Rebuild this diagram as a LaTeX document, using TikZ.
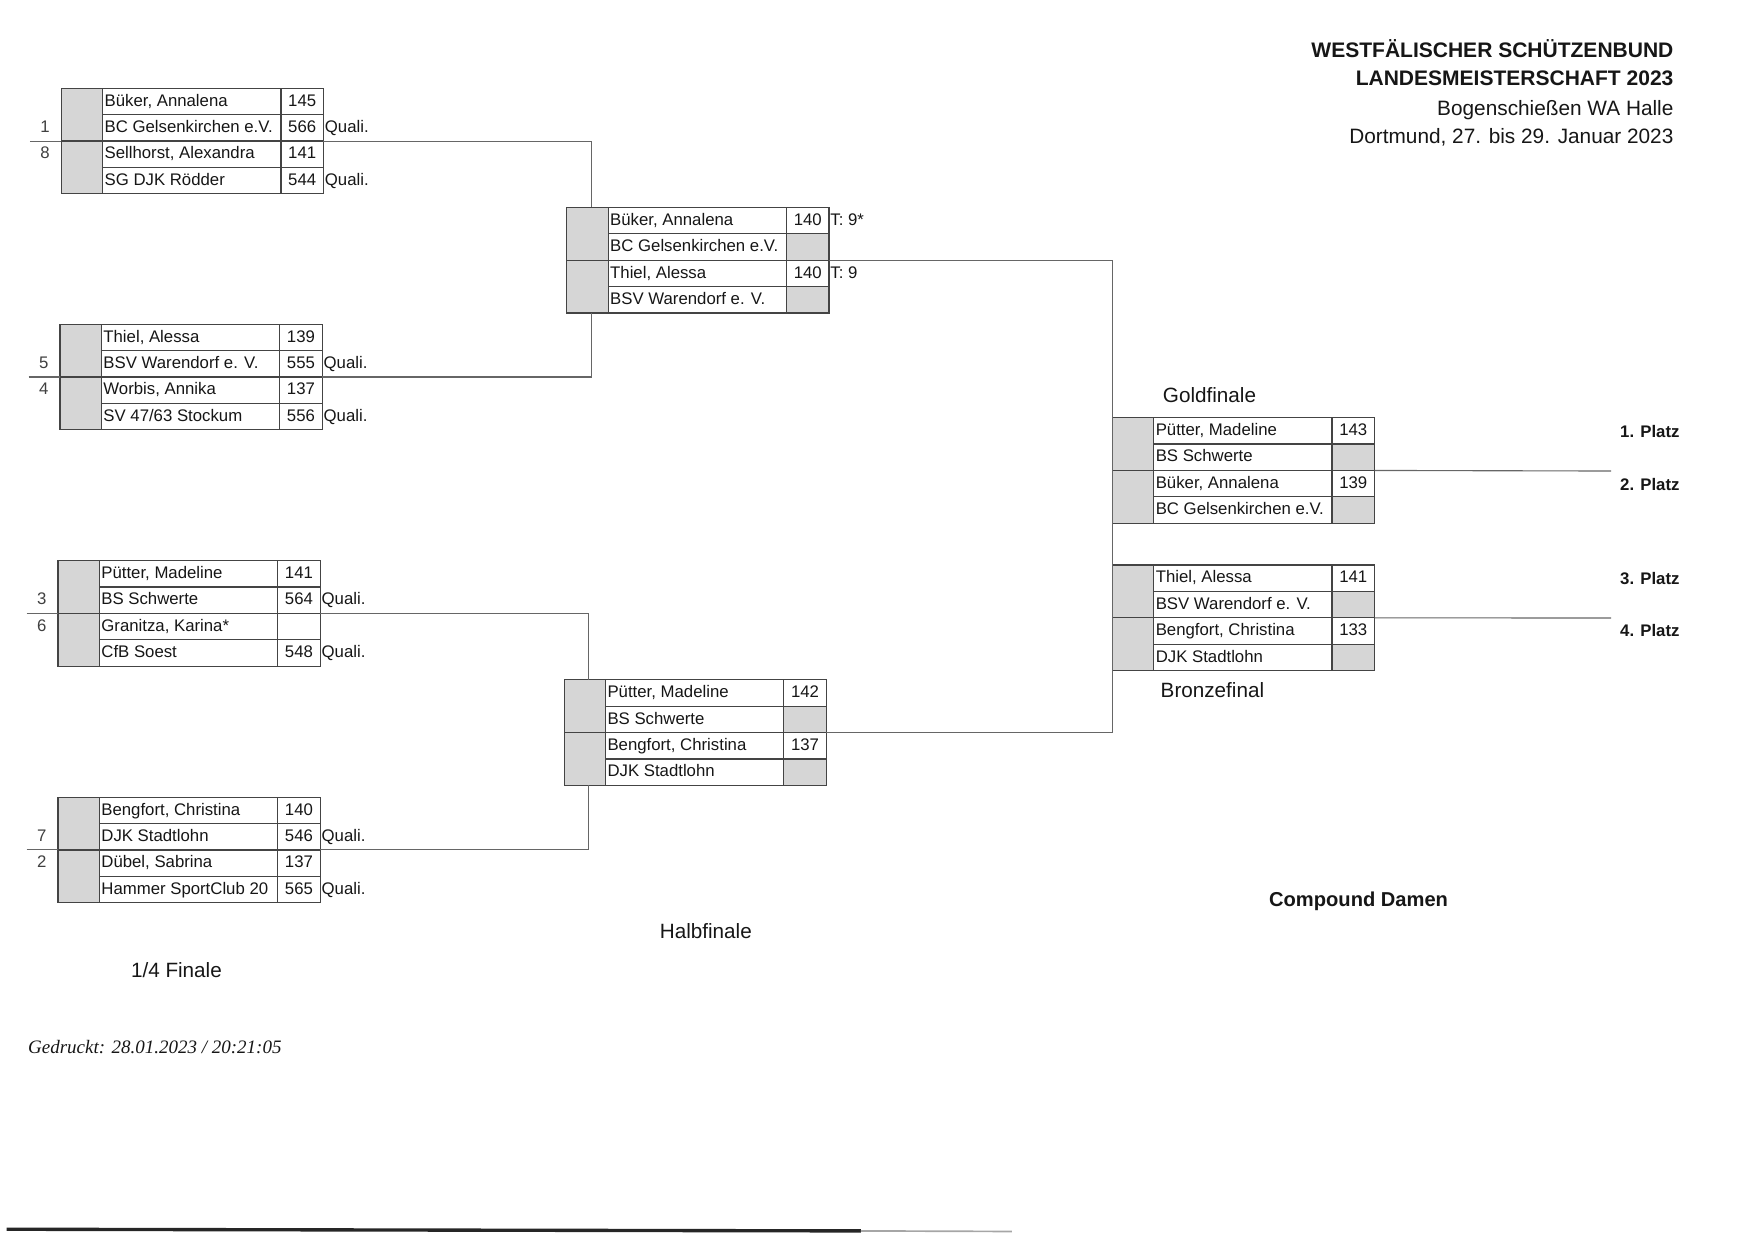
\documentclass[tikz,border=0pt]{standalone}
\usepackage{fontspec}
\setmainfont{Liberation Sans}
\newfontfamily\timesit{Liberation Serif}
\definecolor{shd}{HTML}{D6D6D6}
\definecolor{ink}{HTML}{161616}
\definecolor{lnc}{HTML}{444444}
\definecolor{cnc}{HTML}{666666}
\definecolor{seedc}{HTML}{404040}

% frame of one result box: id, x, y, shaded score cells (0/1)
\newcommand\bframe[4]{%
  \begin{scope}[shift={(#2,#3)}]
    \fill[shd] (0,0) rectangle (37,94.4);
    \ifnum#4=1
      \fill[shd] (196.5,23.6) rectangle (234.5,47.2);
      \fill[shd] (196.5,70.8) rectangle (234.5,94.4);
    \fi
    \draw[boxline] (0,0) rectangle (234.5,94.4)
      (37,0) -- (37,94.4) (196.5,0) -- (196.5,94.4)
      (37,23.6) -- (234.5,23.6) (0,47.2) -- (234.5,47.2) (37,70.8) -- (234.5,70.8);
    \coordinate (#1-tl) at (0,0);
    \coordinate (#1-l) at (0,47.2);
    \coordinate (#1-r) at (234.5,47.2);
    \coordinate (#1-e) at (-28,47.2);
    \coordinate (#1-c) at (22,0);
    \coordinate (#1-d) at (22,94.4);
    \foreach \k/\yy in {1/16,2/39.6,3/63.2,4/86.8}{%
      \coordinate (#1-n\k) at (38.6,\yy);
      \coordinate (#1-s\k) at (215.5,\yy);
      \coordinate (#1-x\k) at (235.6,\yy);
      \coordinate (#1-k\k) at (-14.5,\yy);
    }
  \end{scope}}

% texts of one box
\newcommand\entries[9]{%
  \node[txt,anchor=base west] (#1-t1) at (#1-n1) {#2};
  \node[txt,anchor=base west] (#1-t2) at (#1-n2) {#3};
  \node[txt,anchor=base] (#1-p1) at (#1-s1) {#4};
  \node[txt,anchor=base] (#1-p2) at (#1-s2) {#5};
  \node[txt,anchor=base west] (#1-t3) at (#1-n3) {#6};
  \node[txt,anchor=base west] (#1-t4) at (#1-n4) {#7};
  \node[txt,anchor=base] (#1-p3) at (#1-s3) {#8};
  \node[txt,anchor=base] (#1-p4) at (#1-s4) {#9};}

\begin{document}
\begin{tikzpicture}[x=1pt,y=-1pt,
  txt/.style={inner sep=0pt,text=ink,font=\fontsize{15}{18}\selectfont},
  seed/.style={inner sep=0pt,text=seedc,font=\fontsize{15}{18}\selectfont,anchor=base},
  plz/.style={inner sep=0pt,text=ink,font=\bfseries\fontsize{15}{18}\selectfont,anchor=base west},
  lbl/.style={inner sep=0pt,text=ink,font=\fontsize{18.5}{22}\selectfont,anchor=base west},
  ttlb/.style={inner sep=0pt,text=ink,font=\bfseries\fontsize{18.8}{22}\selectfont,anchor=base east},
  ttl/.style={inner sep=0pt,text=ink,font=\fontsize{18.6}{23}\selectfont,anchor=base east},
  boxline/.style={draw=lnc,line width=1.1pt},
  conn/.style={draw=cnc,line width=1pt}]
\useasboundingbox (0,0) rectangle (1568,1109.1);

% ---------- title ----------
\node[ttlb] (t1) at (1497,51.3) {WESTFÄLISCHER SCHÜTZENBUND};
\node[ttlb] (t2) at (1497,76.5) {LANDESMEISTERSCHAFT 2023};
\node[ttl] (t3) at (1497,103) {Bogenschießen WA Halle};
\node[ttl] (t4) at (1497,128) {Dortmund, 27. bis 29. Januar 2023};

% ---------- box frames (coordinates) ----------
\bframe{qf1}{54.8}{79}{0}
\bframe{qf2}{53.7}{290}{0}
\bframe{qf3}{51.9}{501.5}{0}
\bframe{qf4}{51.9}{713}{0}
\bframe{sf1}{507}{185.5}{1}
\bframe{sf2}{504.6}{608}{1}
\bframe{gold}{995}{373.6}{1}
\bframe{bronze}{995}{505.4}{1}

% ---------- connectors ----------
\draw[conn] (qf1-e) -- (qf1-l);
\draw[conn] (qf2-e) -- (qf2-l);
\draw[conn] (qf3-e) -- (qf3-l);
\draw[conn] (qf4-e) -- (qf4-l);
\draw[conn] (qf1-r) -| (sf1-c);
\draw[conn] (qf2-r) -| (sf1-d);
\draw[conn] (qf3-r) -| (sf2-c);
\draw[conn] (qf4-r) -| (sf2-d);
\draw[conn] (sf1-r) -| (gold-tl) |- (sf2-r);
\coordinate (p2end) at (1441,421.3);
\coordinate (p4end) at (1441,552.8);
\draw[conn] (gold-r) -- (p2end);
\draw[conn] (bronze-r) -- (p4end);

% ---------- entries ----------
\entries{qf1}{Büker, Annalena}{BC Gelsenkirchen e.V.}{145}{566}{Sellhorst, Alexandra}{SG DJK Rödder}{141}{544}
\entries{qf2}{Thiel, Alessa}{BSV Warendorf e. V.}{139}{555}{Worbis, Annika}{SV 47/63 Stockum}{137}{556}
\entries{qf3}{Pütter, Madeline}{BS Schwerte}{141}{564}{Granitza, Karina*}{CfB Soest}{}{548}
\entries{qf4}{Bengfort, Christina}{DJK Stadtlohn}{140}{546}{Dübel, Sabrina}{Hammer SportClub 20}{137}{565}
\entries{sf1}{Büker, Annalena}{BC Gelsenkirchen e.V.}{140}{}{Thiel, Alessa}{BSV Warendorf e. V.}{140}{}
\entries{sf2}{Pütter, Madeline}{BS Schwerte}{142}{}{Bengfort, Christina}{DJK Stadtlohn}{137}{}
\entries{gold}{Pütter, Madeline}{BS Schwerte}{143}{}{Büker, Annalena}{BC Gelsenkirchen e.V.}{139}{}
\entries{bronze}{Thiel, Alessa}{BSV Warendorf e. V.}{141}{}{Bengfort, Christina}{DJK Stadtlohn}{133}{}

% ---------- right-hand notes ----------
\foreach \b in {qf1,qf2,qf3,qf4}{
  \node[txt,anchor=base west] (\b-q2) at (\b-x2) {Quali.};
  \node[txt,anchor=base west] (\b-q4) at (\b-x4) {Quali.};
}
\node[txt,anchor=base west] (sf1-tb1) at (sf1-x1) {T: 9*};
\node[txt,anchor=base west] (sf1-tb3) at (sf1-x3) {T: 9};

% ---------- seeds ----------
\node[seed] (sd1) at (qf1-k2) {1};
\node[seed] (sd8) at (qf1-k3) {8};
\node[seed] (sd5) at (qf2-k2) {5};
\node[seed] (sd4) at (qf2-k3) {4};
\node[seed] (sd3) at (qf3-k2) {3};
\node[seed] (sd6) at (qf3-k3) {6};
\node[seed] (sd7) at (qf4-k2) {7};
\node[seed] (sd2) at (qf4-k3) {2};

% ---------- places ----------
\node[plz] (pl1) at (1449,391.4) {1. Platz};
\node[plz] (pl2) at (1449,438.4) {2. Platz};
\node[plz] (pl3) at (1449,522.4) {3. Platz};
\node[plz] (pl4) at (1449,569.4) {4. Platz};

% ---------- section labels ----------
\node[lbl] (goldlbl) at (1040,359.6) {Goldfinale};
\node[lbl] (bronzelbl) at (1038,623.6) {Bronzefinal};
\node[lbl] (halblbl) at (590,839.6) {Halbfinale};
\node[lbl] (viertellbl) at (117,874.6) {1/4 Finale};
\node[inner sep=0pt,text=ink,font=\bfseries\fontsize{18}{22}\selectfont,anchor=base west] (compound) at (1135,810.4) {Compound Damen};
\node[inner sep=0pt,text=ink,font=\timesit\itshape\fontsize{17}{20}\selectfont,anchor=base west] (gedruckt) at (25,942) {Gedruckt: 28.01.2023 / 20:21:05};

% ---------- bottom rule (scan edge) ----------
\coordinate (bl1) at (6,1099.5);
\coordinate (bl2) at (770,1101);
\coordinate (bl3) at (905,1101.5);
\draw[line width=3pt,black!85] (bl1) -- (bl2);
\draw[line width=1.5pt,black!35] (bl2) -- (bl3);
\end{tikzpicture}
\end{document}
